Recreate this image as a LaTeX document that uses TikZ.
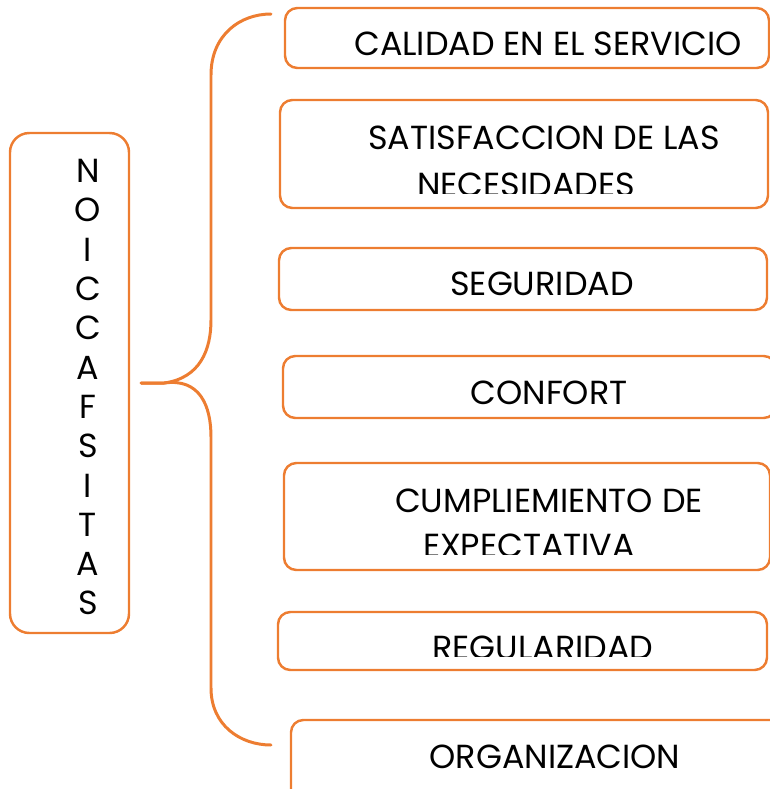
\documentclass[tikz,border=0pt]{standalone}
\usepackage{fontspec}
\setmainfont{Poppins}
\usetikzlibrary{fit,calc}

\definecolor{naranja}{HTML}{ED7D31}

\tikzset{
  caja/.style={draw=naranja, line width=1.4pt, rounded corners=7pt, inner sep=0pt},
  texto/.style={anchor=base, inner sep=0pt, font=\fontsize{19}{22}\selectfont},
  letra/.style={inner sep=0pt, font=\fontsize{19}{22}\selectfont},
  llave/.style={draw=naranja, line width=1.7pt, line cap=round}
}

\begin{document}
\begin{tikzpicture}[x=0.02cm,y=-0.02cm]
  \useasboundingbox (0,0) rectangle (770,789);
  % caja izquierda
  \node[caja, rounded corners=11pt, fit={(10,133) (129,633)}] (satis) {};
  \foreach \l [count=\i] in {N,O,I,C,C,A,F,S,I,T,A,S}
    \node[letra] (l\i) at (88,{171+39.3*(\i-1)}) {\l};
  % cajas derechas
  \node[caja, fit={(285,8) (769,68)}]    (calidad) {};
  \node[caja, fit={(280,100) (768,208)}] (necesidades) {};
  \node[caja, fit={(279,248) (767,310)}] (seguridad) {};
  \node[caja, fit={(283,356) (776,418)}] (confort) {};
  \node[caja, fit={(284,463) (770,570)}] (expectativa) {};
  \node[caja, fit={(278,612) (767,670)}] (regularidad) {};
  \node[caja, fit={(291,720) (785,805)}] (organizacion) {};
  % textos
  \node[texto] (t1) at (548,55)  {CALIDAD EN EL SERVICIO};
  \node[texto] (t2) at (544,149) {SATISFACCION DE LAS};
  \begin{scope}
    \clip (0,0) rectangle (770,193);
    \node[texto] (t3) at (526,196) {NECESIDADES};
  \end{scope}
  \node[texto] (t4) at (542,295) {SEGURIDAD};
  \node[texto] (t5) at (549,404) {CONFORT};
  \node[texto] (t6) at (549,512) {CUMPLIEMIENTO DE};
  \begin{scope}
    \clip (0,0) rectangle (770,554);
    \node[texto] (t7) at (529,557) {EXPECTATIVA};
  \end{scope}
  \begin{scope}
    \clip (0,0) rectangle (770,656);
    \node[texto] (t8) at (543,659) {REGULARIDAD};
  \end{scope}
  \node[texto] (t9) at (555,768) {ORGANIZACION};
  % llave
  \coordinate (punta) at ($(satis.east)+(11,0)$);
  \coordinate (arriba) at (271,14);
  \coordinate (abajo) at (271,745);
  \draw[llave] (punta) -- ++(23,0) .. controls (200,378) and (211,350) .. (211,320)
    -- (211,75) .. controls (211,35) and (240,14) .. (arriba);
  \draw[llave] (punta) -- ++(23,0) .. controls (200,378) and (211,406) .. (211,437)
    -- (211,688) .. controls (211,725) and (240,745) .. (abajo);
\end{tikzpicture}
\end{document}
